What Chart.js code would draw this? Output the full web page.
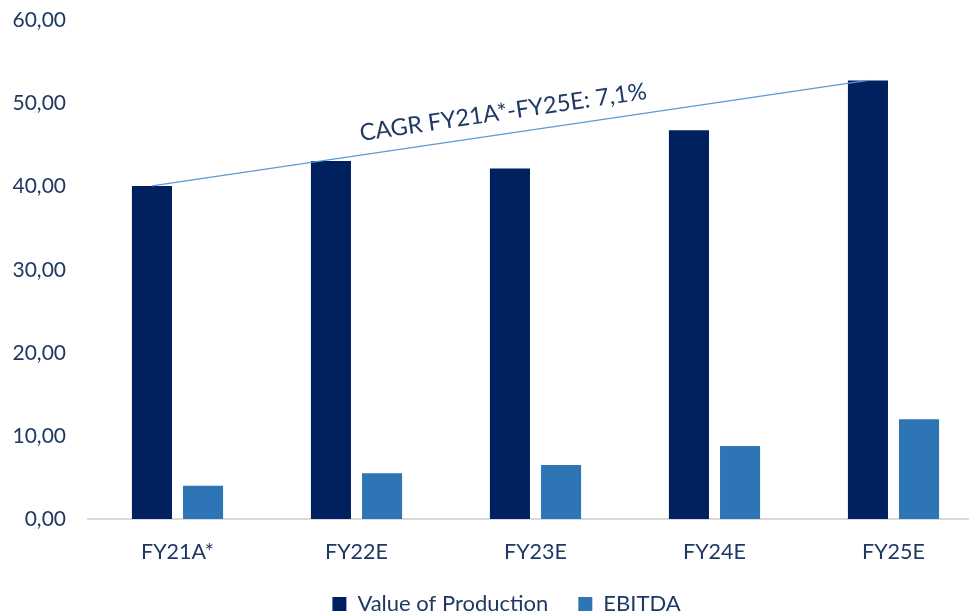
<!DOCTYPE html>
<html>
<head>
<meta charset="utf-8">
<script src="https://cdn.jsdelivr.net/npm/chart.js@4/dist/chart.umd.min.js"></script>
<style>
  html, body { margin: 0; padding: 0; background: #fff; overflow: hidden; }
  #wrap { width: 983px; height: 614px; overflow: hidden; }
  #chart { display: block; margin-top: -14px; }
</style>
</head>
<body>
<div id="wrap"><canvas id="chart" width="983" height="639"></canvas></div>
<script>
// ── Data ────────────────────────────────────────────────────
const years      = ["FY21A*", "FY22E", "FY23E", "FY24E", "FY25E"];
const production = [40.1, 43.1, 42.2, 46.8, 52.8];
const ebitda     = [4.0, 5.5, 6.5, 8.8, 12.0];
const cagrLabel  = "CAGR FY21A*-FY25E: 7,1%";

const NAVY  = "#002060";
const BLUE  = "#2E75B6";
const TEXT  = "#1F3864";
const FONT  = "Lato, 'Open Sans', sans-serif";

// ── CAGR trend line: top of first to top of last production bar ──
const cagrPlugin = {
  id: "cagr",
  afterLayout(chart) {
    // nudge the legend a little right of the canvas centre
    chart.legend.left += 15;
    chart.legend.right += 15;
  },
  afterDatasetsDraw(chart) {
    const meta = chart.getDatasetMeta(0);
    const y = chart.scales.y;
    const first = meta.data[0], last = meta.data[meta.data.length - 1];
    const x1 = first.x, y1 = y.getPixelForValue(production[0]);
    const x2 = last.x,  y2 = y.getPixelForValue(production[production.length - 1]);
    const ctx = chart.ctx;
    ctx.save();
    ctx.strokeStyle = "#5B9BD5";
    ctx.lineWidth = 1.3;
    ctx.beginPath();
    ctx.moveTo(x1, y1);
    ctx.lineTo(x2, y2);
    ctx.stroke();

    const ang = Math.atan2(y2 - y1, x2 - x1);
    const mx = x1 + (x2 - x1) * 0.495, my = y1 + (y2 - y1) * 0.495;
    ctx.translate(mx, my);
    ctx.rotate(ang);
    ctx.fillStyle = TEXT;
    ctx.font = "23.5px " + FONT;
    ctx.textAlign = "center";
    ctx.textBaseline = "alphabetic";
    ctx.fillText(cagrLabel, 0, -14);
    ctx.restore();
  }
};

new Chart(document.getElementById("chart").getContext("2d"), {
  type: "bar",
  data: {
    labels: years,
    datasets: [
      { label: "Value of Production", data: production, backgroundColor: NAVY,
        categoryPercentage: 0.571, barPercentage: 0.784 },
      { label: "EBITDA", data: ebitda, backgroundColor: BLUE,
        categoryPercentage: 0.571, barPercentage: 0.784 },
    ],
  },
  options: {
    responsive: false,
    animation: false,
    layout: { padding: 0 },
    plugins: {
      tooltip: { enabled: false },
      legend: {
        position: "bottom",
        labels: {
          color: TEXT, font: { family: FONT, size: 22 },
          boxWidth: 14, boxHeight: 14, padding: 30,
        },
      },
    },
    scales: {
      x: {
        grid: { display: false },
        border: { display: true, color: "#D9D9D9", width: 2 },
        ticks: { color: TEXT, font: { family: FONT, size: 21.5 }, padding: 12 },
        afterFit(scale) { scale.height = 44; },
      },
      y: {
        min: 0, max: 60,
        grid: { display: false, drawTicks: false },
        border: { display: false },
        afterFit(scale) { scale.width = 88; },
        ticks: {
          stepSize: 10, color: TEXT, padding: 22,
          font: { family: FONT, size: 21 },
          callback: v => v.toFixed(2).replace(".", ","),
        },
      },
    },
  },
  plugins: [cagrPlugin],
});
</script>
</body>
</html>
